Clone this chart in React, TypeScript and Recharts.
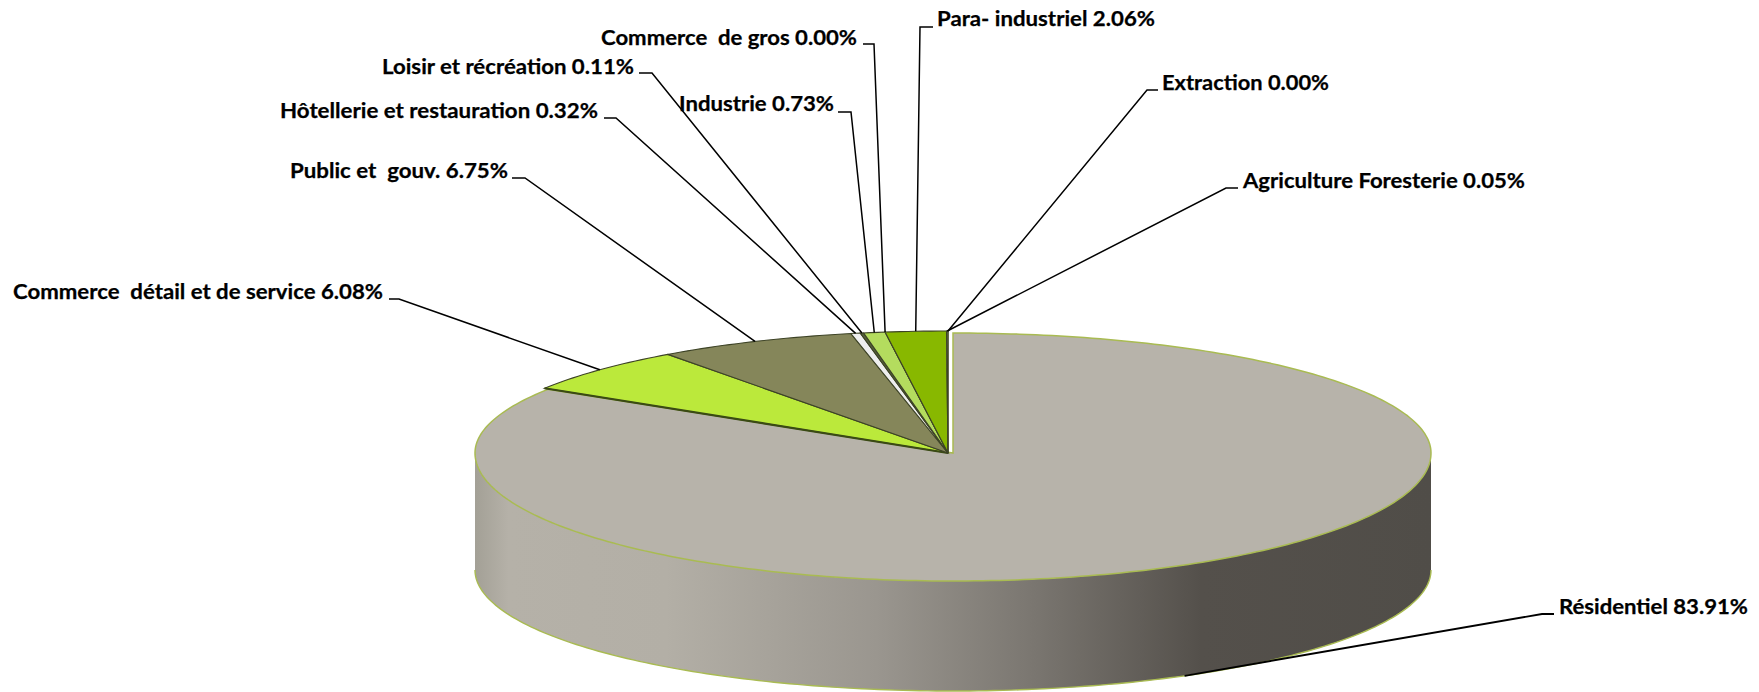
import React from "react";
import { PieChart, Pie, Cell } from "recharts";

const categories = [
  "Résidentiel",
  "Commerce  détail et de service",
  "Public et  gouv.",
  "Hôtellerie et restauration",
  "Loisir et récréation",
  "Industrie",
  "Commerce  de gros",
  "Para- industriel",
  "Agriculture Foresterie",
  "Extraction",
];
const shares = [83.91, 6.08, 6.75, 0.32, 0.11, 0.73, 0.0, 2.06, 0.05, 0.0];
const sliceColors = [
  "#b7b3aa",
  "#bbe93b",
  "#85865a",
  "#eeeeee",
  "#55603a",
  "#b4dc5e",
  "#7f9a30",
  "#88b800",
  "#c9d98f",
  "#6d7f2c",
];

// label layout: text left, text width, text centre y, elbow start x, elbow end x, elbow y
const labelLayout = [
  [1559, 189, 607, 1554, 1542, 614],
  [13, 370, 292, 389, 399, 299],
  [290, 218, 171, 512, 525, 178],
  [280, 318, 111, 604, 616, 118],
  [382, 252, 67, 639, 652, 73],
  [679, 155, 104, 838, 851, 112],
  [601, 256, 38, 863, 874, 44],
  [937, 218, 19, 933, 920, 27],
  [1243, 282, 181, 1238, 1226, 188],
  [1162, 167, 83, 1158, 1147, 90],
];

const chartData = categories.map((name, i) => ({ name, value: shares[i] }));

const WIDTH = 1759;
const HEIGHT = 692;
const CX = 948;
const CY = 453;
const RADIUS = 478;
const BIG_SLICE_SHIFT = 5;
const RY_BACK = 122;
const RY_FRONT = 128;
const WALL = 117;
const RY_WALL = 121;
const RAD = Math.PI / 180;

const edgePoint = (cx: number, cy: number, rx: number, angle: number, back: number) => {
  const s = Math.sin(angle * RAD);
  return [cx + rx * Math.cos(angle * RAD), cy - (s > 0 ? back : RY_FRONT) * s];
};

const toPath = (pts: number[][]) =>
  pts.map((p, i) => `${i ? "L" : "M"}${p[0].toFixed(2)} ${p[1].toFixed(2)}`).join(" ");

const anglesBetween = (from: number, to: number) => {
  const n = Math.max(1, Math.ceil(Math.abs(to - from)));
  return Array.from({ length: n + 1 }, (_, i) => from + ((to - from) * i) / n);
};

// elliptical sector, the library only gives circular ones
const SliceShape = (props: any) => {
  const { cx, cy, outerRadius, startAngle, endAngle, fill, index } = props;
  if (index === 0) {
    const x = cx + BIG_SLICE_SHIFT;
    const front = anglesBetween(180, 360);
    const wallBottom = front.map((a) => [
      x + outerRadius * Math.cos(a * RAD),
      cy + WALL - RY_WALL * Math.sin(a * RAD),
    ]);
    const wallPts = [
      ...front.map((a) => edgePoint(x, cy, outerRadius, a, RY_BACK)),
      ...wallBottom.slice().reverse(),
    ];
    const rim = anglesBetween(startAngle, endAngle).map((a) =>
      edgePoint(x, cy, outerRadius, a, RY_BACK - 2),
    );
    return (
      <g>
        <defs>
          <linearGradient id="wallShade" x1="0" y1="0" x2="1" y2="0">
            <stop offset="0" stopColor="#a3a096" />
            <stop offset="0.035" stopColor="#b5b1a8" />
            <stop offset="0.2" stopColor="#b3afa6" />
            <stop offset="0.42" stopColor="#9a968f" />
            <stop offset="0.58" stopColor="#7b7771" />
            <stop offset="0.76" stopColor="#54504b" />
            <stop offset="1" stopColor="#504d48" />
          </linearGradient>
        </defs>
        <path d={toPath(wallPts) + " Z"} fill="url(#wallShade)" />
        <path d={toPath(wallBottom)} fill="none" stroke="#a9bb52" strokeWidth={1.4} />
        <path d={toPath([[x, cy], ...rim]) + " Z"} fill={fill} stroke="#a9bb52" strokeWidth={1.5} />
      </g>
    );
  }
  const rx = outerRadius - 2;
  const rim = anglesBetween(startAngle, endAngle).map((a) => edgePoint(cx, cy, rx, a, RY_BACK));
  return (
    <g>
      <path d={toPath([[cx, cy], ...rim]) + " Z"} fill={fill} stroke="#3d4326" strokeWidth={1.1} />
      {index === 1 && (
        <path d={toPath([[cx, cy], rim[0]])} stroke="#3a4a14" strokeWidth={2.2} fill="none" />
      )}
    </g>
  );
};

const SliceLabel = (props: any) => {
  const { cx, cy, outerRadius, midAngle, index } = props;
  const [textX, textW, textY, elbowA, elbowB, elbowY] = labelLayout[index];
  const s = Math.sin(midAngle * RAD);
  const c = Math.cos(midAngle * RAD);
  const start =
    index === 0
      ? [cx + BIG_SLICE_SHIFT + outerRadius * c, cy + WALL - RY_WALL * s]
      : edgePoint(cx, cy, outerRadius - 2, midAngle, RY_BACK);
  return (
    <g>
      <path
        d={toPath([start, [elbowB, elbowY], [elbowA, elbowY]])}
        fill="none"
        stroke="#000"
        strokeWidth={index === 0 ? 1.9 : 1.5}
      />
      <text
        x={textX}
        y={textY + 7}
        textLength={textW}
        lengthAdjust="spacingAndGlyphs"
        fontFamily="Lato, 'Open Sans', sans-serif"
        fontWeight={700}
        fontSize={21}
        fill="#000"
        stroke="#000"
        strokeWidth={0.25}
        style={{ whiteSpace: "pre" }}
      >
        {`${categories[index]} ${shares[index].toFixed(2)}%`}
      </text>
    </g>
  );
};

const App = () => {
  return (
    <div style={{ position: "absolute", left: 0, top: 0, width: WIDTH, height: HEIGHT, background: "#fff" }}>
      <PieChart width={WIDTH} height={HEIGHT} margin={{ top: 0, right: 0, bottom: 0, left: 0 }}>
        <Pie
          data={chartData}
          dataKey="value"
          nameKey="name"
          cx={CX}
          cy={CY}
          innerRadius={0}
          outerRadius={RADIUS}
          startAngle={90}
          endAngle={-270}
          paddingAngle={0}
          shape={SliceShape}
          label={SliceLabel}
          labelLine={false}
          isAnimationActive={false}
        >
          {chartData.map((d, i) => (
            <Cell key={d.name} fill={sliceColors[i]} />
          ))}
        </Pie>
      </PieChart>
    </div>
  );
};

export default App;
